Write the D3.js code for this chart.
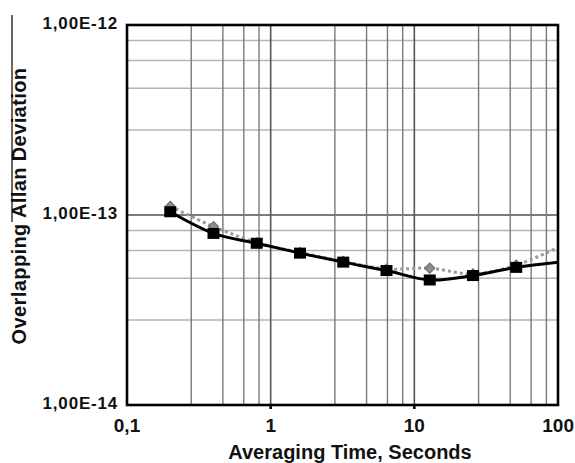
<!DOCTYPE html>
<meta charset="utf-8">
<style>

  body{
    margin: 0;
    background: #fff;
  }

  text {
    font-family: "Liberation Sans", Arial, sans-serif;
    font-weight: bold;
    fill: #111;
  }

</style>
<svg width="575" height="463"></svg>
<script src="https://cdnjs.cloudflare.com/ajax/libs/d3/7.8.5/d3.min.js"></script>
<script>

  var svg = d3.select("svg"),
  width = +svg.attr("width"),
  height = +svg.attr("height");

  var margin = {top: 25, right: 17, bottom: 58, left: 127};
  var w = width - margin.left - margin.right,
  h = height - margin.top - margin.bottom;

  // averaging times (s) and the two deviation series
  var taus = [0.2, 0.4, 0.8, 1.6, 3.2, 6.4, 12.8, 25.6, 51.2, 102.4];
  var solid = [1.04e-13, 8.0e-14, 7.1e-14, 6.3e-14, 5.65e-14, 5.1e-14, 4.55e-14, 4.8e-14, 5.3e-14, 5.65e-14];
  var dotted = [1.11e-13, 8.7e-14, 7.15e-14, 6.35e-14, 5.7e-14, 5.2e-14, 5.25e-14, 4.9e-14, 5.45e-14, 6.8e-14];

  var xTicks = [0.1, 1, 10, 100];
  var xTickLabels = ["0,1", "1", "10", "100"];
  var yTicks = [1e-14, 1e-13, 1e-12];
  var yTickLabels = ["1,00E-14", "1,00E-13", "1,00E-12"];
  // odd minor grid steps inside each decade, as drawn in the original
  var minorSteps = [2.8, 4.65, 6.5, 8.3];

  var x = d3.scaleLog().domain([0.1, 100]).range([0, w]);
  var y = d3.scaleLog().domain([1e-14, 1e-12]).range([h, 0]);

  var g = svg.append("g")
  .attr("transform", "translate(" + margin.left + "," + margin.top + ")");

  svg.append("defs").append("clipPath")
  .attr("id", "plot")
  .append("rect")
  .attr("width", w)
  .attr("height", h);

  var xMinor = [], yMinor = [];
  [0.1, 1, 10].forEach(function(d){
    minorSteps.forEach(function(s){ xMinor.push(d * s); });
  });
  [1e-14, 1e-13].forEach(function(d){
    minorSteps.forEach(function(s){ yMinor.push(d * s); });
  });

  // horizontal grid
  g.append("g")
  .selectAll("line")
  .data(yMinor)
  .enter().append("line")
  .attr("x1", 0).attr("x2", w)
  .attr("y1", d=>y(d)).attr("y2", d=>y(d))
  .attr("stroke", "#b4b4b4")
  .attr("stroke-width", 1.5);

  g.append("g")
  .selectAll("line")
  .data(yTicks.slice(1, -1))
  .enter().append("line")
  .attr("x1", 0).attr("x2", w)
  .attr("y1", d=>y(d)).attr("y2", d=>y(d))
  .attr("stroke", "#505050")
  .attr("stroke-width", 1.6);

  // vertical grid
  g.append("g")
  .selectAll("line")
  .data(xMinor)
  .enter().append("line")
  .attr("x1", d=>x(d)).attr("x2", d=>x(d))
  .attr("y1", 0).attr("y2", h)
  .attr("stroke", "#7a7a7a")
  .attr("stroke-width", 1.4);

  g.append("g")
  .selectAll("line")
  .data(xTicks.slice(1, -1))
  .enter().append("line")
  .attr("x1", d=>x(d)).attr("x2", d=>x(d))
  .attr("y1", 0).attr("y2", h)
  .attr("stroke", "#555")
  .attr("stroke-width", 1.6);

  var line = function(vals){
    return d3.line()
    .x(function(d, i){ return x(taus[i]); })
    .y(function(d){ return y(d); })
    .curve(d3.curveCatmullRom.alpha(0))(vals);
  };

  var plot = g.append("g").attr("clip-path", "url(#plot)");

  plot.append("path")
  .attr("d", line(dotted))
  .attr("fill", "none")
  .attr("stroke", "#9a9a9a")
  .attr("stroke-width", 3)
  .attr("stroke-dasharray", "3,3");

  plot.append("g")
  .selectAll("path")
  .data(dotted.filter((d, i)=>taus[i] <= 100))
  .enter().append("path")
  .attr("d", d3.symbol().type(d3.symbolSquare).size(52))
  .attr("transform", (d, i)=>"translate(" + x(taus[i]) + "," + y(d) + ") rotate(45)")
  .attr("fill", "#8c8c8c")
  .attr("stroke", "#6a6a6a")
  .attr("stroke-width", 1);

  plot.append("path")
  .attr("d", line(solid))
  .attr("fill", "none")
  .attr("stroke", "#000")
  .attr("stroke-width", 3);

  plot.append("g")
  .selectAll("rect")
  .data(solid.filter((d, i)=>taus[i] <= 100))
  .enter().append("rect")
  .attr("x", (d, i)=>x(taus[i]) - 6)
  .attr("y", d=>y(d) - 5.5)
  .attr("width", 12)
  .attr("height", 11)
  .attr("fill", "#000");

  // frame
  g.append("rect")
  .attr("width", w)
  .attr("height", h)
  .attr("fill", "none")
  .attr("stroke", "#000")
  .attr("stroke-width", 2.6);

  g.append("g")
  .selectAll("line")
  .data(xTicks.slice(1, -1))
  .enter().append("line")
  .attr("x1", d=>x(d)).attr("x2", d=>x(d))
  .attr("y1", h).attr("y2", h + 4)
  .attr("stroke", "#000")
  .attr("stroke-width", 2.5);

  // tick labels
  g.append("g")
  .selectAll("text")
  .data(yTicks)
  .enter().append("text")
  .attr("x", -9)
  .attr("y", d=>y(d) + 4)
  .attr("text-anchor", "end")
  .style("font-size", "17px")
  .style("letter-spacing", "0.8px")
  .text((d, i)=>yTickLabels[i]);

  g.append("g")
  .selectAll("text")
  .data(xTicks)
  .enter().append("text")
  .attr("x", d=>x(d))
  .attr("dx", (d, i)=>i == xTicks.length - 1 ? 0 : 0)
  .attr("y", h + 27)
  .attr("text-anchor", (d, i)=>i == xTicks.length - 1 ? "end" : "middle")
  .attr("dx", (d, i)=>i == xTicks.length - 1 ? 16 : 0)
  .style("font-size", "19px")
  .text((d, i)=>xTickLabels[i]);

  // axis titles
  svg.append("text")
  .attr("x", 350)
  .attr("y", 459)
  .attr("text-anchor", "middle")
  .style("font-size", "20px")
  .text("Averaging Time, Seconds");

  svg.append("text")
  .attr("transform", "translate(26,206) rotate(-90)")
  .attr("text-anchor", "middle")
  .style("font-size", "20px")
  .style("letter-spacing", "0.4px")
  .text("Overlapping Allan Deviation");

  svg.append("line")
  .attr("x1", 12).attr("x2", 12)
  .attr("y1", 15).attr("y2", 222)
  .attr("stroke", "#000")
  .attr("stroke-width", 1.2);

</script>
